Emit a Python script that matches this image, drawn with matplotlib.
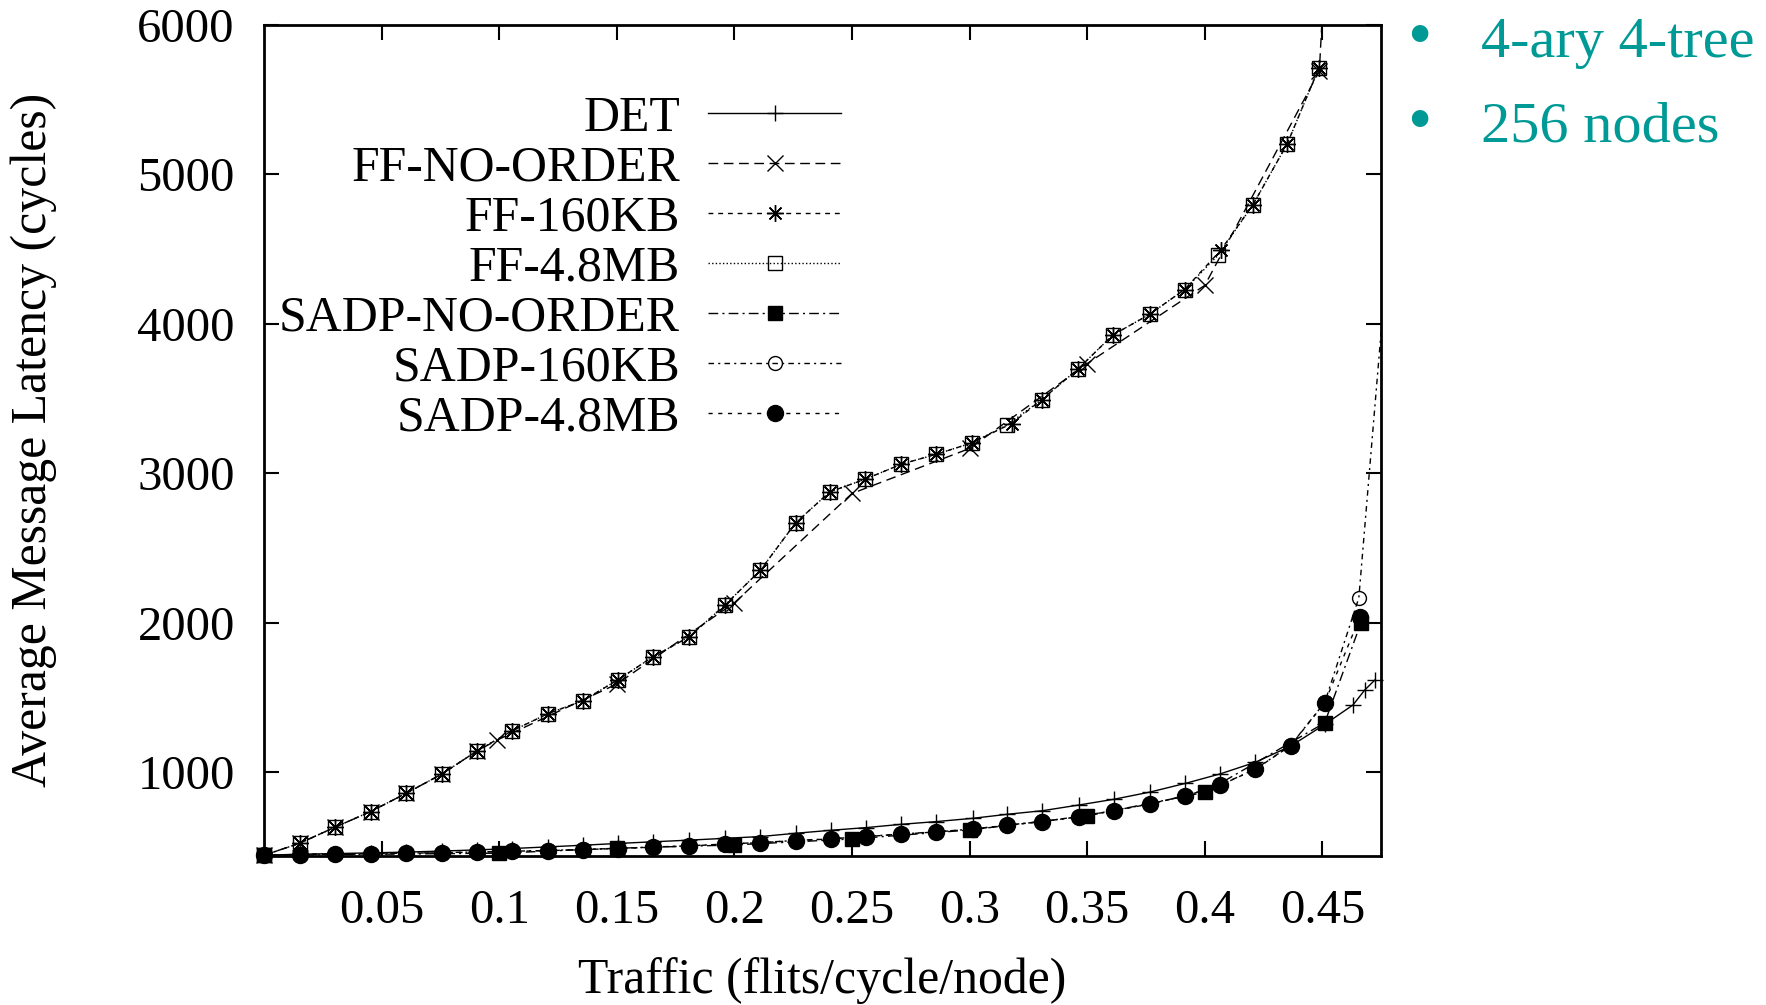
import matplotlib
matplotlib.use("Agg")
import matplotlib.pyplot as plt
from matplotlib.lines import Line2D
import numpy as np

plt.rcParams['font.family'] = ['Liberation Serif', 'DejaVu Serif']

# ---------------- data ----------------
x_ticks = [0.05, 0.1, 0.15, 0.2, 0.25, 0.3, 0.35, 0.4, 0.45]
x_tick_labels = ['0.05', '0.1', '0.15', '0.2', '0.25', '0.3', '0.35', '0.4', '0.45']
y_ticks = [1000, 2000, 3000, 4000, 5000, 6000]
y_tick_labels = ['1000', '2000', '3000', '4000', '5000', '6000']
x_range = (0.0, 0.4748)
y_range = (440, 6000)

labels = ['DET', 'FF-NO-ORDER', 'FF-160KB', 'FF-4.8MB',
          'SADP-NO-ORDER', 'SADP-160KB', 'SADP-4.8MB']

det_x = [0.0, 0.0151, 0.0301, 0.0453, 0.0605, 0.0755, 0.0907, 0.1056, 0.1207, 0.1356,
         0.1505, 0.1654, 0.1806, 0.1958, 0.211, 0.226, 0.241, 0.256, 0.271, 0.2857,
         0.3013, 0.316, 0.331, 0.3464, 0.3612, 0.3768, 0.3918, 0.4065, 0.4215, 0.4365,
         0.451, 0.463, 0.468, 0.4723]
det_y = [445, 452, 456, 461, 466, 473, 481, 490, 501, 512,
         524, 535, 546, 558, 570, 592, 612, 630, 652, 670,
         692, 719, 743, 781, 819, 868, 926, 989, 1067, 1175,
         1320, 1450, 1550, 1617]

ff_noorder_x = [0.0, 0.0151, 0.0301, 0.0453, 0.0605, 0.0755, 0.0907, 0.0992, 0.15, 0.2,
                0.25, 0.3, 0.35, 0.4, 0.4487, 0.46]
ff_noorder_y = [445, 525, 632, 737, 860, 987, 1144, 1216, 1590, 2134,
                2865, 3166, 3734, 4257, 5690, 9000]

ff_160_x = [0.0, 0.0151, 0.0301, 0.0453, 0.0605, 0.0755, 0.0907, 0.1056, 0.1207, 0.1356,
            0.1505, 0.1654, 0.1806, 0.1958, 0.211, 0.226, 0.2406, 0.2557, 0.271, 0.2856,
            0.3009, 0.3179, 0.3307, 0.346, 0.3609, 0.3765, 0.3914, 0.4067, 0.4205, 0.4351,
            0.4485]
ff_160_y = [445, 525, 632, 737, 860, 987, 1144, 1278, 1392, 1479,
            1619, 1773, 1904, 2116, 2350, 2668, 2876, 2961, 3061, 3126,
            3203, 3333, 3493, 3696, 3925, 4063, 4229, 4491, 4797, 5205,
            5711]

ff_48_x = [0.0, 0.0151, 0.0301, 0.0453, 0.0605, 0.0755, 0.0907, 0.1056, 0.1207, 0.1356,
           0.1505, 0.1654, 0.1806, 0.1958, 0.211, 0.226, 0.2406, 0.2557, 0.271, 0.2856,
           0.3009, 0.3159, 0.3307, 0.346, 0.3609, 0.3765, 0.3914, 0.4056, 0.4205, 0.4351,
           0.4485]
ff_48_y = [445, 525, 632, 737, 860, 987, 1144, 1278, 1392, 1479,
           1619, 1773, 1904, 2116, 2350, 2668, 2876, 2961, 3061, 3126,
           3203, 3322, 3493, 3696, 3925, 4063, 4229, 4458, 4797, 5205,
           5711]

sadp_noorder_x = [0.0, 0.1, 0.15, 0.2, 0.25, 0.3, 0.35, 0.4, 0.451, 0.4664]
sadp_noorder_y = [445, 459, 492, 514, 554, 614, 708, 866, 1331, 2000]

sadp_160_x = [0.0, 0.0151, 0.0301, 0.0453, 0.0605, 0.0755, 0.0907, 0.1056, 0.1207, 0.1356,
              0.1505, 0.1654, 0.1806, 0.1958, 0.211, 0.226, 0.241, 0.256, 0.271, 0.2857,
              0.3013, 0.316, 0.331, 0.3464, 0.3612, 0.3768, 0.3918, 0.4065, 0.4215, 0.4365,
              0.451, 0.4655, 0.479]
sadp_160_y = [445, 451, 453, 456, 459, 463, 467, 472, 477, 484,
              491, 500, 508, 520, 530, 544, 555, 571, 587, 602,
              620, 647, 671, 704, 744, 789, 843, 914, 1021, 1180,
              1467, 2167, 4700]

sadp_48_x = [0.0, 0.0151, 0.0301, 0.0453, 0.0605, 0.0755, 0.0907, 0.1056, 0.1207, 0.1356,
             0.1505, 0.1654, 0.1806, 0.1958, 0.211, 0.226, 0.241, 0.256, 0.271, 0.2857,
             0.3013, 0.316, 0.331, 0.3464, 0.3612, 0.3768, 0.3918, 0.4065, 0.4215, 0.4365,
             0.451, 0.466]
sadp_48_y = [445, 450, 452, 455, 458, 462, 466, 471, 476, 483,
             490, 499, 507, 519, 529, 543, 554, 570, 586, 601,
             619, 646, 670, 703, 743, 788, 842, 913, 1020, 1178,
             1465, 2040]

series = [
    (det_x, det_y, '-', '+', 12, 'black'),
    (ff_noorder_x, ff_noorder_y, (0, (7, 4)), 'x', 11, 'black'),
    (ff_160_x, ff_160_y, (0, (3.5, 3.5)), (8, 2, 0), 12, 'black'),
    (ff_48_x, ff_48_y, (0, (1, 1.6)), 's', 10, 'none'),
    (sadp_noorder_x, sadp_noorder_y, (0, (7, 3, 1.5, 3)), 's', 10, 'black'),
    (sadp_160_x, sadp_160_y, (0, (4, 3, 1.5, 3)), 'o', 10, 'none'),
    (sadp_48_x, sadp_48_y, (0, (3, 4)), 'o', 11.5, 'black'),
]

W, H = 1766, 1005
fig = plt.figure(figsize=(W / 100, H / 100), dpi=100)
ax = fig.add_axes([264 / W, 1 - 856 / H, (1380.7 - 264) / W, (856 - 24.8) / H])
ax.set_xlim(*x_range)
ax.set_ylim(*y_range)

handles = []
for xs, ys, ls, mk, ms, mfc in series:
    xs = np.asarray(xs, dtype=float)
    ys = np.asarray(ys, dtype=float)
    ax.plot(xs, ys, color='black', lw=1.0, linestyle=ls, zorder=2)
    inside = ((xs >= x_range[0]) & (xs <= x_range[1]) &
              (ys >= y_range[0]) & (ys <= y_range[1]))
    ax.plot(xs[inside], ys[inside], linestyle='none', marker=mk, ms=ms,
            mfc=mfc, mec='black', mew=1.0, clip_on=False, zorder=3)
    handles.append(Line2D([], [], color='black', lw=1.0, linestyle=ls, marker=mk,
                          ms=ms, mfc=mfc, mec='black', mew=1.0))

ax.set_xticks(x_ticks)
ax.set_xticklabels(x_tick_labels)
ax.set_yticks(y_ticks)
ax.set_yticklabels(y_tick_labels)
ax.tick_params(axis='both', direction='in', length=11, width=1.5,
               top=True, right=True, labelsize=35)
ax.tick_params(axis='x', pad=24)
ax.tick_params(axis='y', pad=21)
for sp in ax.spines.values():
    sp.set_linewidth(2.0)

ax.legend(handles, labels, loc='upper right', bbox_to_anchor=(0.5164, 0.9152),
          frameon=False, markerfirst=False, fontsize=35.8, handlelength=2.66,
          handletextpad=0.57, labelspacing=0.068, borderpad=0, borderaxespad=0,
          numpoints=1)

fig.text(34 / W, 1 - 440 / H, 'Average Message Latency (cycles)', rotation=90,
         ha='center', va='center', fontsize=35.8)
fig.text(822 / W, 1 - 981 / H, 'Traffic (flits/cycle/node)',
         ha='center', va='center', fontsize=35.8)

teal = '#009a96'
notes = ['4-ary 4-tree', '256 nodes']
baselines = [57, 142]
for txt, base in zip(notes, baselines):
    fig.text(1419 / W, 1 - base / H, '\u2022', ha='center', va='baseline',
             fontsize=50, color=teal)
    fig.text(1481 / W, 1 - base / H, txt, ha='left', va='baseline',
             fontsize=42, color=teal)

fig.savefig('out.png', dpi=100)
